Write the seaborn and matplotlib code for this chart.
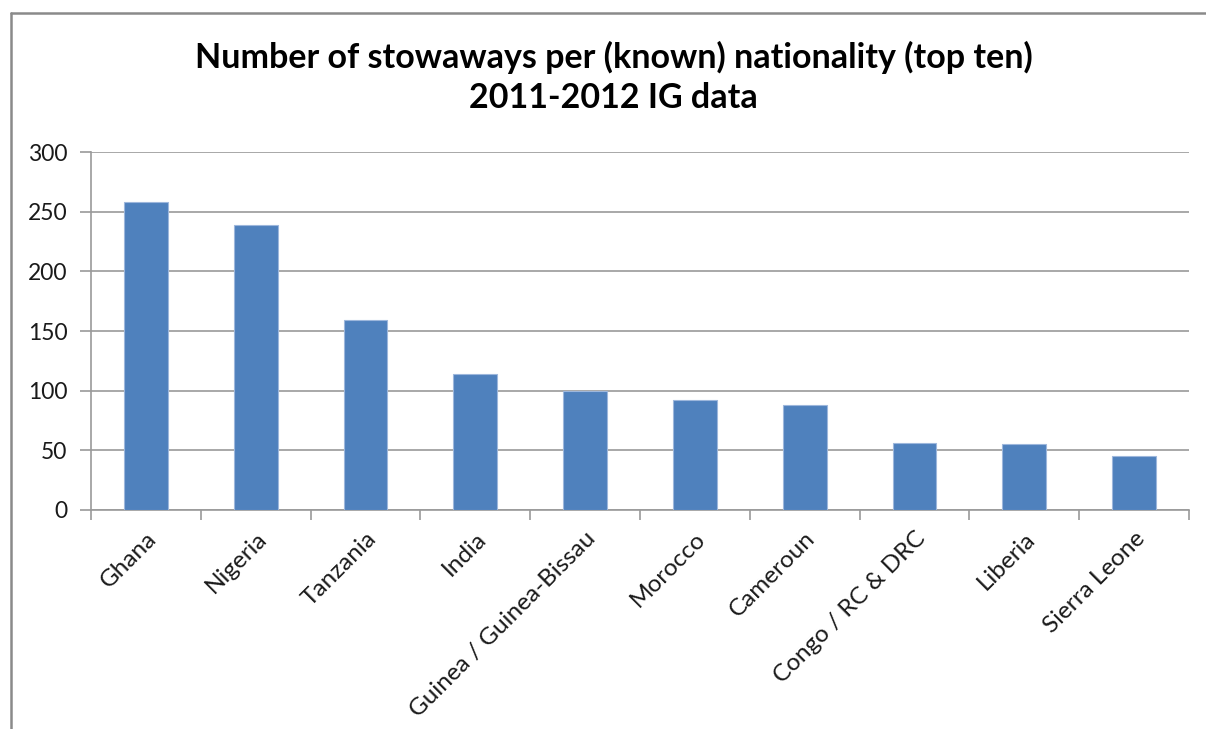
import matplotlib
matplotlib.use("Agg")
import matplotlib.pyplot as plt
import seaborn as sns
import pandas as pd
from matplotlib.lines import Line2D

countries = ["Ghana", "Nigeria", "Tanzania", "India", "Guinea / Guinea-Bissau",
             "Morocco", "Cameroun", "Congo / RC & DRC", "Liberia", "Sierra Leone"]
stowaways = [258, 239, 159, 114, 100, 92, 88, 56, 55, 45]
y_ticks = [0, 50, 100, 150, 200, 250, 300]
title_lines = ["Number of stowaways per (known) nationality (top ten)", "2011-2012 IG data"]

sns.set_theme(style="white")
plt.rcParams['font.family'] = ['Lato', 'DejaVu Sans']

df = pd.DataFrame({"country": countries, "count": stowaways})

fig = plt.figure(figsize=(12.06, 7.29), dpi=100)
ax = fig.add_axes([91/1206, 1-510/729, (1189-91)/1206, (510-152)/729])

sns.barplot(data=df, x="country", y="count", color="#4F81BD", saturation=1,
            width=0.4, edgecolor="#9DB7DC", linewidth=0.8, ax=ax, zorder=3)

ax.set_xlim(-0.5, len(countries) - 0.5)
ax.set_ylim(0, 300)
ax.set_yticks(y_ticks)
ax.set_yticklabels([str(v) for v in y_ticks], fontsize=16.5, color="#1a1a1a")
ax.yaxis.grid(True, color="#9a9a9a", linewidth=1.2, zorder=0)
ax.set_axisbelow(True)
ax.set_xlabel("")
ax.set_ylabel("")

# category boundary ticks (major, unlabeled) and centered labels (minor)
ax.set_xticks([i - 0.5 for i in range(len(countries) + 1)])
ax.set_xticklabels([])
ax.set_xticks(range(len(countries)), minor=True)
ax.set_xticklabels(countries, minor=True, rotation=45, ha="right",
                   rotation_mode="anchor", fontsize=17.5, color="#1a1a1a")
ax.tick_params(axis="x", which="major", length=7, width=1.2, color="#9a9a9a", direction="out", bottom=True)
ax.tick_params(axis="x", which="minor", length=0, pad=13)
ax.tick_params(axis="y", length=8, width=1.2, color="#9a9a9a", direction="out", left=True, pad=9)

for s in ["top", "right"]:
    ax.spines[s].set_visible(False)
for s in ["left", "bottom"]:
    ax.spines[s].set_color("#9a9a9a")
    ax.spines[s].set_linewidth(1.2)

fig.text(0.5087, 1-57/729, title_lines[0], ha="center", va="center",
         fontsize=24.5, fontweight="bold", color="#000000")
fig.text(0.5087, 1-98/729, title_lines[1], ha="center", va="center",
         fontsize=24.5, fontweight="bold", color="#000000")

# chart frame (top and left edges visible)
fig.add_artist(Line2D([11/1206, 1.0], [1-13/729, 1-13/729], color="#8a8a8a", linewidth=1.8, transform=fig.transFigure))
fig.add_artist(Line2D([11/1206, 11/1206], [0, 1-13/729], color="#8a8a8a", linewidth=1.8, transform=fig.transFigure))

fig.savefig("out.png", dpi=100, facecolor="white")
